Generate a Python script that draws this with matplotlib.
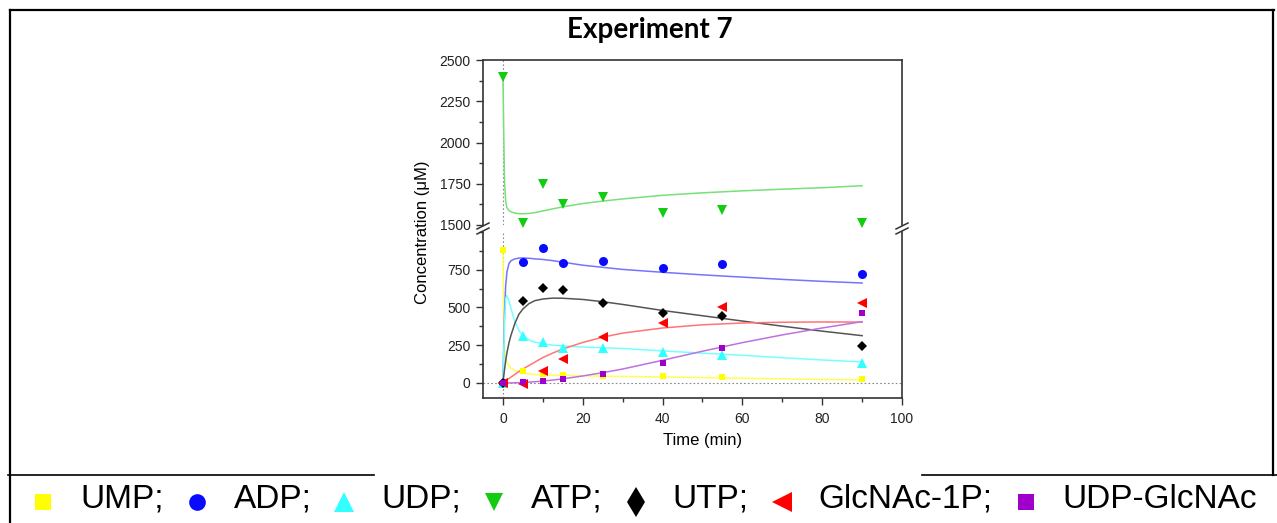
import matplotlib
matplotlib.use("Agg")
import matplotlib.pyplot as plt
from matplotlib.ticker import MultipleLocator

plt.rcParams['font.family'] = ['Liberation Sans', 'DejaVu Sans']

# sampling times (min) and measured concentrations (uM)
times = [0, 5, 10, 15, 25, 40, 55, 90]
ump = [878, 77, 62, 55, 44, 43, 40, 26]
adp = [0, 801, 892, 795, 806, 759, 785, 724]
udp = [0, 309, 269, 234, 229, 203, 185, 133]
atp = [2395, 1514, 1748, 1627, 1668, 1571, 1591, 1514]
utp = [0, 540, 629, 618, 532, 463, 446, 247]
glcnac_1p = [0, -5, 80, 159, 304, 397, 503, 532]
udp_glcnac = [0, 4, 15, 26, 62, 132, 232, 464]

# model curves, sampled on a common time grid
fit_t = [0, 0.2, 0.4, 0.7, 1.0, 1.5, 2, 3, 4, 5, 6.5, 8, 10, 12.5, 15,
         20, 25, 30, 40, 50, 60, 70, 80, 90]
ump_fit = [878, 380, 215, 160, 135, 113, 98, 82, 72, 66, 60, 56, 53, 51, 49,
           47, 45, 43, 39, 35, 31, 27, 23, 19]
adp_fit = [0, 250, 480, 650, 735, 790, 810, 822, 827, 828, 826, 822, 818, 810, 800,
           780, 766, 752, 733, 716, 701, 686, 673, 662]
udp_fit = [0, 200, 400, 560, 578, 545, 495, 405, 348, 313, 285, 270, 260, 250, 245,
           238, 233, 228, 212, 197, 183, 167, 152, 139]
atp_fit = [2400, 2050, 1760, 1640, 1605, 1588, 1580, 1572, 1569, 1568, 1570, 1575,
           1585, 1598, 1610, 1630, 1645, 1658, 1680, 1695, 1707, 1717, 1726, 1738]
utp_fit = [0, 45, 90, 150, 200, 265, 315, 395, 455, 490, 525, 545, 556, 562, 561,
           553, 538, 520, 480, 445, 410, 376, 343, 313]
glcnac_1p_fit = [0, 4, 8, 14, 19, 29, 38, 57, 75, 92, 115, 138, 168, 198, 225,
                 268, 303, 330, 364, 385, 397, 402, 404, 403]
udp_glcnac_fit = [0, 0, 0, 0, 0, 0, 0, 1, 2, 3, 5, 8, 12, 19, 27,
                  46, 68, 92, 150, 210, 267, 318, 364, 406]

names = ['UMP', 'ADP', 'UDP', 'ATP', 'UTP', 'GlcNAc-1P', 'UDP-GlcNAc']
values = [ump, adp, udp, atp, utp, glcnac_1p, udp_glcnac]
fits = [ump_fit, adp_fit, udp_fit, atp_fit, utp_fit, glcnac_1p_fit, udp_glcnac_fit]
markers = ['s', 'o', '^', 'v', 'D', '<', 's']
legend_markers = ['s', 'o', '^', 'v', 'd', '<', 's']
marker_sizes = [5, 6.5, 6.5, 6.5, 5, 6.5, 5]
legend_sizes = [11, 12, 14, 13, 15, 14, 11]
point_colors = ['#ffff00', '#0a0aff', '#33ffff', '#11cc11', '#000000', '#ff0000', '#a000cc']
line_colors = ['#ffff55', '#7474ff', '#77ffff', '#77e077', '#555555', '#ff7474', '#c070e0']

W, H = 1277, 523
fig = plt.figure(figsize=(W / 100, H / 100), dpi=100)


def box(x0, y0, x1, y1):
    return [x0 / W, 1 - y1 / H, (x1 - x0) / W, (y1 - y0) / H]


ax_top = fig.add_axes(box(483, 60, 902, 225))
ax_bot = fig.add_axes(box(483, 232, 902, 398))

for ax in (ax_top, ax_bot):
    ax.set_xlim(-5, 100)
    ax.axvline(0, color='#888888', ls=(0, (1.5, 2)), lw=0.8, zorder=1)
    for s in ax.spines.values():
        s.set_color('#333333')
        s.set_linewidth(1.2)
    ax.tick_params(which='both', direction='out', color='#333333', labelcolor='#222222',
                   labelsize=10, pad=4, right=False, top=False)
    ax.tick_params(which='major', length=5, width=1)
    ax.tick_params(which='minor', length=3, width=1)
    ax.xaxis.set_major_locator(MultipleLocator(20))
    ax.xaxis.set_minor_locator(MultipleLocator(10))
    ax.yaxis.set_major_locator(MultipleLocator(250))
    ax.yaxis.set_minor_locator(MultipleLocator(125))

ax_top.set_ylim(1500, 2500)
ax_top.spines['bottom'].set_visible(False)
ax_top.tick_params(axis='x', which='both', bottom=False, labelbottom=False)

ax_bot.set_ylim(-100, 1000)
ax_bot.set_yticks([0, 250, 500, 750])
ax_bot.spines['top'].set_visible(False)
ax_bot.axhline(0, color='#888888', ls=(0, (1.5, 2)), lw=0.8, zorder=1)
ax_bot.tick_params(axis='x', pad=5)

for i, name in enumerate(names):
    ax = ax_top if name == 'ATP' else ax_bot
    ax.plot(fit_t, fits[i], color=line_colors[i], lw=1.1, zorder=2)
    ax.plot(times, values[i], ls='none', marker=markers[i], ms=marker_sizes[i],
            mfc=point_colors[i], mec=point_colors[i], mew=0, zorder=3 + i * 0.1,
            clip_on=False)

# page layer in pixel units: frame, titles and the legend strip
over = fig.add_axes([0, 0, 1, 1])
over.set_xlim(0, W)
over.set_ylim(H, 0)
over.axis('off')

over.plot([10, 1274], [10, 10], color='black', lw=1.6)
over.plot([10, 10], [10, H], color='black', lw=1.6)
over.plot([1273, 1273], [10, 475], color='black', lw=1.6)
over.plot([8, 374], [475, 475], color='black', lw=1.2)
over.plot([922, W], [475, 475], color='black', lw=1.2)

# axis break marks
for xb in (483, 902):
    for yb in (226, 231):
        over.plot([xb - 6, xb + 6], [yb + 3, yb - 3], color='#333333', lw=1.1)

over.text(650, 30, 'Experiment 7', fontsize=20, fontweight='bold', family=['Lato', 'DejaVu Sans'],
          ha='center', va='center')
over.text(423, 232, 'Concentration (μM)', fontsize=12, rotation=90, ha='center', va='center')
over.text(703, 441, 'Time (min)', fontsize=12, ha='center', va='center')

renderer = fig.canvas.get_renderer()
x = 80
for i, name in enumerate(names):
    label = name + (';' if i < len(names) - 1 else '')
    t = over.text(x, 508, label, fontsize=24, ha='left', va='baseline')
    over.plot(x - 37, 502, marker=legend_markers[i], ms=legend_sizes[i], ls='none',
              mfc=point_colors[i], mec=point_colors[i], mew=0)
    x += t.get_window_extent(renderer).width + 70

fig.savefig('out.png', dpi=100, facecolor='white')
